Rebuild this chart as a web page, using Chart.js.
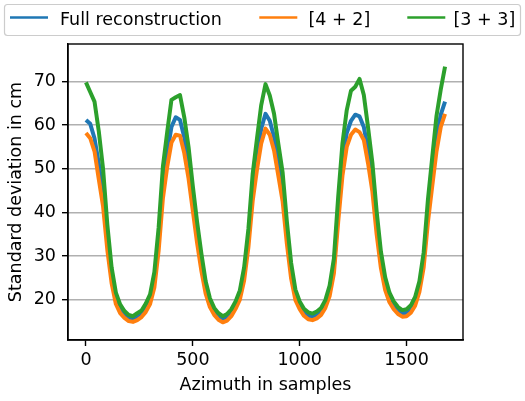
<!DOCTYPE html>
<html>
<head>
<meta charset="utf-8">
<script src="https://cdn.jsdelivr.net/npm/chart.js@4/dist/chart.umd.min.js"></script>
<style>
  html, body { margin: 0; padding: 0; background: #ffffff; }
  #wrap { width: 525px; height: 401px; }
</style>
</head>
<body>
<div id="wrap"><canvas id="c" width="525" height="401"></canvas></div>
<script>
// Azimuth sample index (x values)
const azimuth = [0,20,40,60,80,100,120,140,160,180,200,220,240,260,280,300,320,340,360,380,
  400,420,440,460,480,500,520,540,560,580,600,620,640,660,680,700,720,740,760,780,
  800,820,840,860,880,900,920,940,960,980,1000,1020,1040,1060,1080,1100,1120,1140,1160,1180,
  1200,1220,1240,1260,1280,1300,1320,1340,1360,1380,1400,1420,1440,1460,1480,1500,1520,1540,1560,1580,
  1600,1620,1640,1660,1680];

// Standard deviation in cm
const fullReconstruction = [61.2,60.3,57.0,51.2,44.0,33.6,25.2,20.0,17.8,16.6,15.8,15.5,16.0,16.7,18.0,19.9,24.2,33.4,46.0,53.6,
  59.6,61.8,61.2,57.2,51.0,43.2,35.4,28.6,22.8,19.3,17.3,16.2,15.6,16.0,17.0,18.7,21.0,25.8,34.0,45.4,
  53.0,59.2,62.6,61.0,57.3,51.4,45.4,35.2,26.6,21.1,18.7,17.1,16.3,16.1,16.5,17.3,19.0,22.0,27.6,40.4,
  51.4,58.2,61.0,62.4,62.0,59.6,54.2,47.6,37.4,29.0,23.6,20.5,18.7,17.5,16.9,17.0,17.9,19.6,23.0,29.0,
  40.2,48.6,57.0,62.4,65.4];

const split42 = [58.2,57.0,54.0,47.6,41.4,31.4,23.8,19.0,16.9,15.8,15.1,14.9,15.3,16.0,17.2,19.0,22.8,31.2,43.2,50.4,
  56.0,57.8,57.6,53.6,47.8,40.4,33.0,26.6,21.4,18.3,16.5,15.4,14.8,15.2,16.2,17.9,20.0,24.4,32.0,42.6,
  49.8,55.8,59.2,57.8,54.2,48.4,42.6,32.8,24.8,19.9,17.8,16.3,15.5,15.3,15.7,16.5,18.1,20.8,26.0,37.8,
  48.4,55.0,57.8,59.0,58.4,56.6,51.2,44.8,35.0,27.2,22.2,19.4,17.8,16.7,16.1,16.2,17.0,18.6,21.8,27.4,
  37.8,46.0,54.0,59.6,62.6];

const split33 = [69.8,67.6,65.4,58.6,50.0,37.2,27.4,21.6,18.9,17.4,16.5,16.2,16.9,17.5,19.1,21.2,26.3,36.5,50.5,58.4,
  65.8,66.4,66.9,61.8,55.0,46.0,37.8,30.6,24.2,20.3,18.1,16.9,16.2,16.7,17.8,19.6,22.1,27.4,36.2,48.8,
  56.9,64.6,69.4,66.8,62.6,55.7,49.2,37.9,28.4,22.3,19.6,17.9,17.1,16.8,17.3,18.1,19.9,23.2,29.4,43.5,
  55.8,63.4,67.9,68.8,70.6,66.9,59.4,51.4,40.2,31.0,25.1,21.6,19.6,18.3,17.6,17.8,18.7,20.6,24.2,30.8,
  43.0,52.6,62.1,68.2,73.4];

const seriesLabels = ['Full reconstruction', '[4 + 2]', '[3 + 3]'];
const seriesColors = ['#1f77b4', '#ff7f0e', '#2ca02c'];
const xTicks = [0, 500, 1000, 1500];
const yTicks = [20, 30, 40, 50, 60, 70];

const FONT = '"DejaVu Sans", "Liberation Sans", sans-serif';
const FS = 17.5;

function pts(vals) { return vals.map((v, i) => ({ x: azimuth[i], y: v })); }

const seriesData = [fullReconstruction, split42, split33];

const datasets = seriesData.map((vals, i) => ({
  label: seriesLabels[i],
  data: pts(vals),
  borderColor: seriesColors[i],
  backgroundColor: seriesColors[i],
  borderWidth: 4,
  pointRadius: 0,
  tension: 0,
  borderJoinStyle: 'round',
  order: 3 - i
}));

const framePlugin = {
  id: 'frame',
  afterDatasetsDraw(chart) {
    const { ctx, chartArea: a } = chart;
    ctx.save();
    ctx.strokeStyle = '#000000';
    ctx.lineWidth = 1.4;
    ctx.strokeRect(a.left, a.top, a.right - a.left, a.bottom - a.top);
    ctx.restore();
  }
};

const legendPlugin = {
  id: 'mplLegend',
  afterDraw(chart) {
    const { ctx } = chart;
    ctx.save();
    ctx.beginPath();
    ctx.roundRect(4.5, 4.5, 516, 31, 3);
    ctx.fillStyle = 'rgba(255,255,255,0.8)';
    ctx.fill();
    ctx.strokeStyle = '#cccccc';
    ctx.lineWidth = 1.2;
    ctx.stroke();
    const lineX = [10, 259.3, 407.3];
    const textX = [60, 308.5, 453.5];
    ctx.font = FS + 'px ' + FONT;
    ctx.textBaseline = 'alphabetic';
    ctx.textAlign = 'left';
    chart.data.datasets.forEach((ds, i) => {
      ctx.beginPath();
      ctx.moveTo(lineX[i], 17.5);
      ctx.lineTo(lineX[i] + 38, 17.5);
      ctx.strokeStyle = ds.borderColor;
      ctx.lineWidth = 2.6;
      ctx.stroke();
      ctx.fillStyle = '#000000';
      ctx.fillText(ds.label, textX[i], 25);
    });
    ctx.restore();
  }
};

new Chart(document.getElementById('c'), {
  type: 'line',
  data: { datasets },
  options: {
    responsive: false,
    animation: false,
    events: [],
    layout: { padding: { top: 44, right: 62, left: 0, bottom: 0 } },
    plugins: {
      legend: { display: false },
      tooltip: { enabled: false },
      title: { display: false }
    },
    scales: {
      x: {
        type: 'linear',
        min: -84,
        max: 1764,
        afterBuildTicks: (s) => { s.ticks = xTicks.map(v => ({ value: v })); },
        afterFit: (s) => { s.height = 61; },
        grid: { drawOnChartArea: false, drawTicks: true, tickLength: 6, tickColor: '#000000', tickWidth: 1.4 },
        border: { display: true, color: '#000000', width: 1.4 },
        ticks: { color: '#000000', font: { family: FONT, size: FS }, padding: 4, maxRotation: 0, autoSkip: false,
                 callback: (v) => String(v) },
        title: { display: true, text: 'Azimuth in samples', color: '#000000', font: { family: FONT, size: FS }, padding: { top: 0, bottom: 5 } }
      },
      y: {
        type: 'linear',
        min: 10.75,
        max: 78.6,
        afterBuildTicks: (s) => { s.ticks = yTicks.map(v => ({ value: v })); },
        afterFit: (s) => { s.width = 68; },
        grid: { color: '#b0b0b0', lineWidth: 1.4, drawTicks: true, tickLength: 6, tickColor: '#000000', tickWidth: 1.4 },
        border: { display: true, color: '#000000', width: 1.4 },
        ticks: { color: '#000000', font: { family: FONT, size: FS }, padding: 6, callback: (v) => String(v) },
        title: { display: true, text: 'Standard deviation in cm', color: '#000000', font: { family: FONT, size: FS }, padding: { top: 6, bottom: 0 } }
      }
    }
  },
  plugins: [framePlugin, legendPlugin]
});
</script>
</body>
</html>
